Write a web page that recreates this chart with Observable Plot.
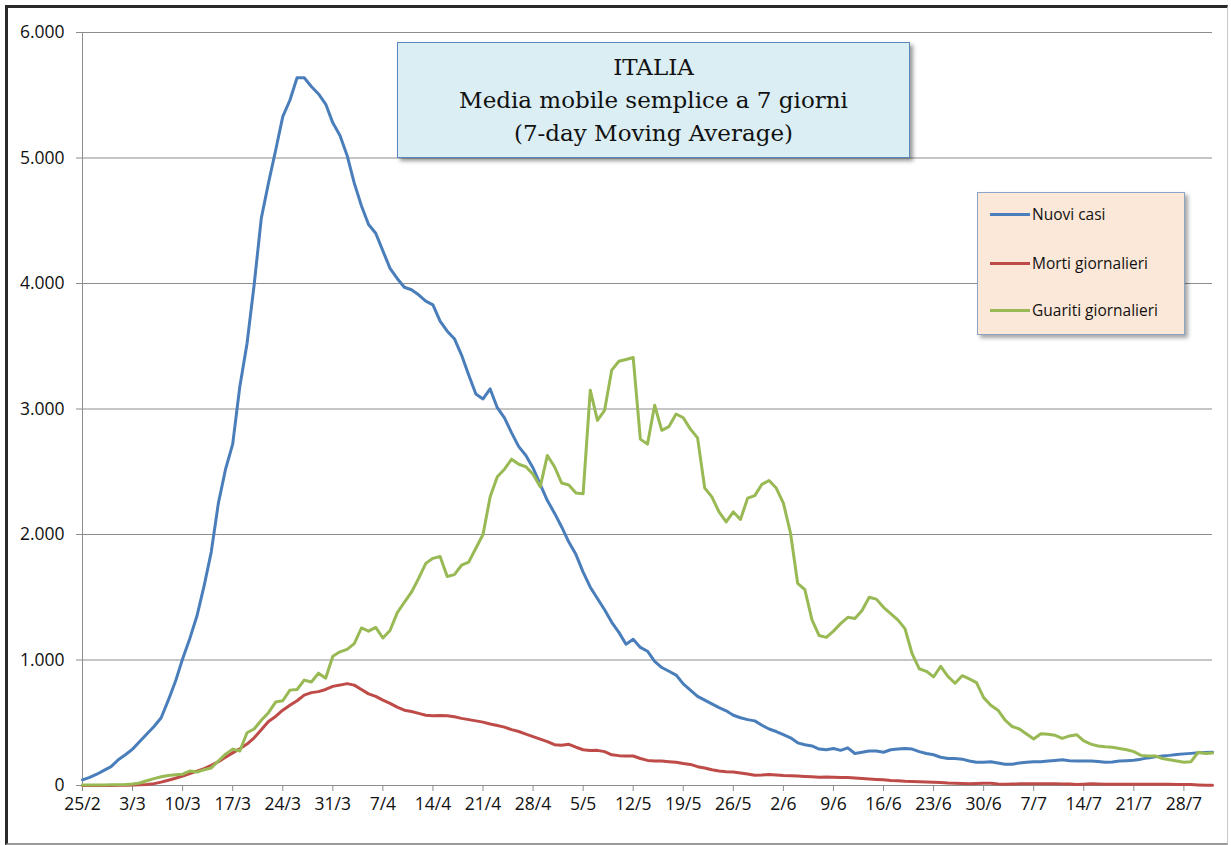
<!DOCTYPE html>
<html><head><meta charset="utf-8">
<script src="https://cdn.jsdelivr.net/npm/d3@7"></script>
<script src="https://cdn.jsdelivr.net/npm/@observablehq/plot@0.6"></script>
<style>
html,body{margin:0;padding:0;background:#fff;}
#wrap{position:relative;width:1231px;height:845px;overflow:hidden;background:#fff;}
#chart{position:absolute;left:0;top:0;}
#chart svg g[aria-label="x-axis tick label"] text, #chart svg g[aria-label="y-axis tick label"] text{font-size:17.5px;}
#frame{position:absolute;left:5px;top:5px;width:1219px;height:835px;border-left:3px solid #2a2a2a;border-top:3px solid #2a2a2a;border-right:1px solid #c8c8c8;border-bottom:2px solid #9a9a9a;pointer-events:none;}
#title{position:absolute;left:397px;top:42px;width:513px;height:116px;box-sizing:border-box;background:#dbeef4;border:1px solid #5b87bf;box-shadow:3px 3px 4px rgba(0,0,0,0.4);font-family:"DejaVu Serif",serif;font-size:23px;color:#111;text-align:center;line-height:33px;padding-top:8px;}
#legend{position:absolute;left:977px;top:192px;width:208px;height:143px;box-sizing:border-box;background:#fce8d8;border:1px solid #8aa5c8;box-shadow:3px 3px 4px rgba(0,0,0,0.35);font-family:"Open Sans",sans-serif;font-size:15.5px;color:#111;}
.item{position:absolute;left:12px;height:22px;display:flex;align-items:center;}
.swatch{width:40px;height:3px;margin-right:2px;}
</style>
</head><body>
<div id="wrap">
  <div id="chart"></div>
  <div id="title">ITALIA<br>Media mobile semplice a 7 giorni<br>(7-day Moving Average)</div>
  <div id="legend"></div>
  <div id="frame"></div>
</div>
<script>
// Day 0 = 25/2/2020, one value per day up to 1/8/2020
const startDate = "2020-02-25";

const seriesNames = ["Nuovi casi", "Morti giornalieri", "Guariti giornalieri"];
const seriesColors = ["#4a7ebb", "#be4b48", "#98b954"];

const nuoviCasi = [
  45, 65, 90, 120, 150, 205, 245, 290, 350, 410,
  470, 540, 680, 830, 1010, 1170, 1350, 1590, 1860, 2250,
  2520, 2720, 3180, 3520, 3990, 4520, 4800, 5060, 5330, 5460,
  5640, 5640, 5570, 5510, 5430, 5280, 5180, 5020, 4800, 4620,
  4470, 4400, 4260, 4120, 4040, 3970, 3950, 3910, 3860, 3830,
  3700, 3620, 3560, 3430, 3270, 3120, 3080, 3160, 3010, 2930,
  2810, 2700, 2630, 2530, 2400, 2270, 2170, 2060, 1940, 1840,
  1700, 1580, 1490, 1400, 1300, 1220, 1125, 1165, 1100, 1070,
  990, 940, 910, 880, 810, 760, 710, 680, 650, 620,
  595, 560, 540, 525, 515, 480, 450, 430, 405, 380,
  340, 325, 315, 290, 285, 295, 280, 300, 255, 265,
  275, 275, 265, 285, 290, 295, 290, 270, 255, 245,
  225, 215, 215, 210, 195, 185, 185, 190, 180, 170,
  170, 180, 185, 190, 190, 195, 200, 205, 198, 196,
  196, 196, 192, 185, 188, 195, 198, 202, 210, 220,
  228, 235, 240, 247, 252, 256, 260, 263, 265
];

const mortiGiornalieri = [
  0, 0, 0, 0, 0, 1, 2, 3, 5, 8,
  15, 27, 42, 58, 75, 95, 115, 135, 160, 190,
  225, 260, 293, 330, 380, 445, 510, 550, 600, 640,
  675, 720, 740, 748, 765, 790, 800, 812, 800, 765,
  730, 710, 680, 655, 625, 600, 590, 575, 560, 555,
  558, 555, 548, 535, 525, 515, 505, 490, 478, 465,
  445, 430, 410, 390, 370, 350, 325, 320, 328, 305,
  285, 278, 280, 270, 245, 238, 236, 235, 215, 200,
  196, 195, 190, 185, 175, 168, 150, 140, 125, 115,
  110, 108, 100, 92, 82, 84, 88, 84, 80, 78,
  75, 72, 70, 66, 68, 66, 64, 63, 60, 56,
  52, 48, 45, 40, 38, 34, 32, 30, 28, 26,
  24, 20, 18, 16, 14, 15, 17, 18, 12, 10,
  12, 13, 13, 13, 13, 13, 13, 12, 11, 8,
  10, 13, 11, 9, 9, 9, 9, 9, 9, 9,
  9, 9, 9, 8, 8, 7, 4, 2, 2
];

const guaritiGiornalieri = [
  3, 3, 3, 4, 5, 6, 8, 12, 20, 38,
  55, 70, 80, 85, 90, 115, 108, 125, 140, 195,
  250, 290, 275, 420, 450, 520, 580, 665, 675, 760,
  765, 840, 825, 895, 855, 1030, 1065, 1085, 1130, 1255,
  1230, 1260, 1175, 1235, 1375, 1460, 1540, 1650, 1770, 1810,
  1825, 1665, 1680, 1755, 1780, 1890, 2000, 2300, 2460, 2520,
  2600, 2560, 2540, 2480, 2380, 2630, 2540, 2410, 2395, 2330,
  2325, 3150, 2910, 2990, 3310, 3380, 3395, 3410, 2760, 2720,
  3030, 2830, 2860, 2960, 2930, 2840, 2770, 2370, 2300, 2180,
  2100, 2180, 2120, 2290, 2310, 2400, 2430, 2370, 2250, 2010,
  1610, 1560, 1320, 1195, 1180, 1230, 1290, 1340, 1330, 1395,
  1500, 1485, 1420, 1370, 1320, 1250, 1050, 930, 910, 865,
  950, 870, 815, 875, 850, 820, 700, 640, 600, 520,
  470, 450, 410, 370, 412, 408, 400, 375, 395, 405,
  355, 330, 315, 308, 305, 295, 285, 270, 240, 235,
  236, 215, 205, 195, 185, 190, 265, 255, 258
];

const xTickLabels = ["25/2","3/3","10/3","17/3","24/3","31/3","7/4","14/4","21/4","28/4","5/5","12/5","19/5","26/5","2/6","9/6","16/6","23/6","30/6","7/7","14/7","21/7","28/7"];
const yTickValues = [0, 1000, 2000, 3000, 4000, 5000, 6000];
const yTickLabels = ["0", "1.000", "2.000", "3.000", "4.000", "5.000", "6.000"];

const seriesValues = [nuoviCasi, mortiGiornalieri, guaritiGiornalieri];

const t0 = Date.parse(startDate + "T00:00:00Z");
const dayDate = i => new Date(t0 + i * 864e5);
const nDays = nuoviCasi.length;

const rows = [];
seriesValues.forEach((vals, s) => vals.forEach((v, i) => rows.push({date: dayDate(i), value: v, serie: seriesNames[s]})));

const xTicks = xTickLabels.map((_, k) => dayDate(k * 7));
const xLabelMap = new Map(xTicks.map((d, k) => [+d, xTickLabels[k]]));
const yLabelMap = new Map(yTickValues.map((v, k) => [v, yTickLabels[k]]));

const axisColor = "#8c8c8c";
const chart = Plot.plot({
  width: 1231,
  height: 845,
  marginLeft: 82,
  marginRight: 19,
  marginTop: 32,
  marginBottom: 60,
  style: {fontFamily: "'Open Sans', sans-serif", fontSize: "17px", color: "#111", background: "transparent", overflow: "visible"},
  x: {type: "utc", domain: [dayDate(0), dayDate(nDays - 1)], label: null},
  y: {domain: [0, 6000], label: null},
  color: {domain: seriesNames, range: seriesColors},
  marks: [
    Plot.gridY(yTickValues.filter(v => v > 0), {stroke: axisColor, strokeOpacity: 1, strokeWidth: 1}),
    Plot.axisX(xTicks, {tickFormat: d => xLabelMap.get(+d), tickSize: 6, tickPadding: 6, stroke: axisColor, fill: "#111", fontSize: 17.5, label: null}),
    Plot.axisY(yTickValues, {tickFormat: v => yLabelMap.get(v), tickSize: 6, tickPadding: 12, stroke: axisColor, fill: "#111", fontSize: 17.5, label: null}),
    Plot.ruleY([0], {stroke: axisColor}),
    Plot.ruleX([dayDate(0)], {stroke: axisColor}),
    Plot.line(rows, {x: "date", y: "value", z: "serie", stroke: "serie", strokeWidth: 3, strokeLinejoin: "round"})
  ]
});
document.getElementById("chart").appendChild(chart);

const legend = document.getElementById("legend");
const legendTops = [10, 59, 106];
seriesNames.forEach((name, k) => {
  const it = document.createElement("div");
  it.className = "item";
  it.style.top = legendTops[k] + "px";
  const sw = document.createElement("div");
  sw.className = "swatch";
  sw.style.background = seriesColors[k];
  const tx = document.createElement("span");
  tx.textContent = name;
  it.appendChild(sw); it.appendChild(tx);
  legend.appendChild(it);
});
</script>
</body></html>
